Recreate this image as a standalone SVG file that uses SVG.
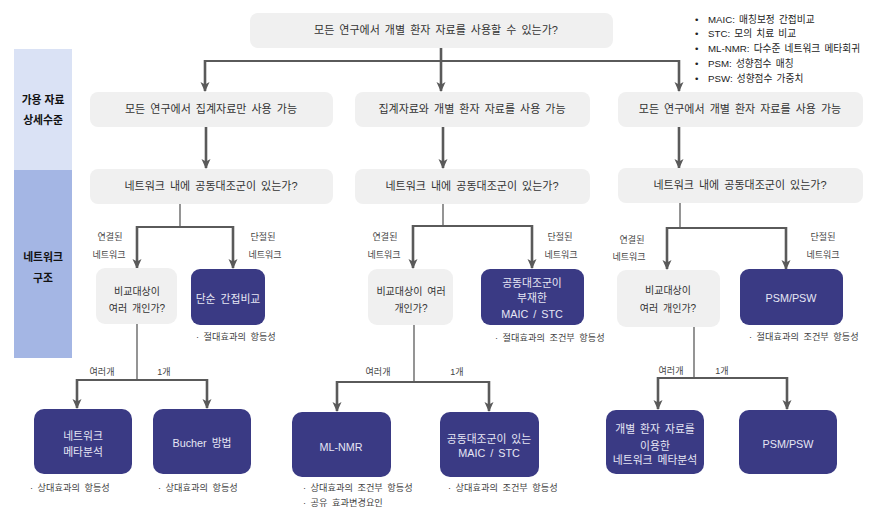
<svg xmlns="http://www.w3.org/2000/svg" width="877" height="517" viewBox="0 0 877 517">
<style>
text{font-family:"Liberation Sans","Noto Sans CJK KR",sans-serif;text-anchor:middle;}
.q{fill:#f0f0f0;}
.d{fill:#3a3a84;}
.t{font-size:11px;fill:#333;word-spacing:2px;}
.g{font-size:10px;fill:#333;word-spacing:2px;}
.w{font-size:10.8px;fill:#e6e6f4;word-spacing:2px;}
.l{font-size:9px;fill:#444;}
.a{font-size:9.2px;fill:#444;text-anchor:start;word-spacing:2px;}
.s{font-size:10.8px;font-weight:bold;fill:#111;}
.lg{font-size:9.7px;fill:#222;text-anchor:start;word-spacing:1.5px;}
.ar{fill:none;stroke:#5a5a5a;stroke-width:2.6;marker-end:url(#ah);}
.ln{fill:none;stroke:#5a5a5a;stroke-width:2.2;}
.st{fill:none;stroke:#7a7a7a;stroke-width:1.6;}
</style>
<defs>
<marker id="ah" markerUnits="userSpaceOnUse" markerWidth="10" markerHeight="10" viewBox="0 0 10 10" refX="9" refY="5" orient="auto">
<path d="M0,0.5 L10,5 L0,9.5 L2.5,5 z" fill="#5a5a5a"/>
</marker>
</defs>
<rect width="877" height="517" fill="#ffffff"/>

<g id="sidebar">
<rect x="14" y="49" width="58" height="121" fill="#dae2f5"/>
<rect x="14" y="170" width="58" height="188" fill="#a4b6e4"/>
<text class="s" x="43" y="104">가용 자료</text>
<text class="s" x="43" y="124">상세수준</text>
<text class="s" x="43" y="261">네트워크</text>
<text class="s" x="43" y="282">구조</text>
</g>

<g id="legend">
<text class="lg" x="695" y="22.5">•</text><text class="lg" x="708" y="22.5">MAIC: 매칭보정 간접비교</text>
<text class="lg" x="695" y="36.5">•</text><text class="lg" x="708" y="36.5">STC: 모의 치료 비교</text>
<text class="lg" x="695" y="51.5">•</text><text class="lg" x="708" y="51.5">ML-NMR: 다수준 네트워크 메타회귀</text>
<text class="lg" x="695" y="66.5">•</text><text class="lg" x="708" y="66.5">PSM: 성향점수 매칭</text>
<text class="lg" x="695" y="81.5">•</text><text class="lg" x="708" y="81.5">PSW: 성향점수 가중치</text>
</g>

<g id="connectors">
<path class="ln" d="M205,61 H679"/>
<path class="ar" d="M205,60 V91"/>
<path class="ar" d="M441,48 V91"/>
<path class="ar" d="M679,60 V91"/>
<path class="ar" d="M206,127 V168"/>
<path class="ar" d="M443,127 V168"/>
<path class="ar" d="M679,127 V168"/>

<path class="st" d="M180,204 V227"/>
<path class="ln" d="M137,227 H233"/>
<path class="ar" d="M137,226 V268"/>
<path class="ar" d="M233,226 V268"/>
<path class="st" d="M443,204 V226"/>
<path class="ln" d="M413,226 H532"/>
<path class="ar" d="M413,225 V268"/>
<path class="ar" d="M532,225 V268"/>
<path class="st" d="M680,203 V228"/>
<path class="ln" d="M667,228 H786"/>
<path class="ar" d="M667,227 V269"/>
<path class="ar" d="M786,227 V269"/>

<path class="st" d="M137,324 V380"/>
<path class="ln" d="M77,380 H207"/>
<path class="ar" d="M77,379 V408"/>
<path class="ar" d="M207,379 V408"/>
<path class="st" d="M414,325 V382"/>
<path class="ln" d="M337,382 H489"/>
<path class="ar" d="M337,381 V411"/>
<path class="ar" d="M489,381 V411"/>
<path class="st" d="M694,327 V378"/>
<path class="ln" d="M658,378 H787"/>
<path class="ar" d="M658,377 V409"/>
<path class="ar" d="M787,377 V409"/>
</g>

<g id="labels">
<text class="l" x="110" y="240">연결된</text><text class="l" x="109" y="258">네트워크</text>
<text class="l" x="263" y="240">단절된</text><text class="l" x="265" y="258">네트워크</text>
<text class="l" x="385" y="240">연결된</text><text class="l" x="384" y="258">네트워크</text>
<text class="l" x="560" y="240">단절된</text><text class="l" x="561" y="258">네트워크</text>
<text class="l" x="632" y="243">연결된</text><text class="l" x="629" y="260">네트워크</text>
<text class="l" x="823" y="240">단절된</text><text class="l" x="823" y="258">네트워크</text>
<text class="l" x="102" y="375">여러개</text><text class="l" x="164" y="375">1개</text>
<text class="l" x="378" y="375">여러개</text><text class="l" x="457" y="375">1개</text>
<text class="l" x="671" y="374">여러개</text><text class="l" x="722" y="374">1개</text>
</g>

<g id="n-top"><rect class="q" x="250" y="13" width="363" height="35" rx="8"/><text class="t" x="436" y="34">모든 연구에서 개별 환자 자료를 사용할 수 있는가?</text></g>

<g id="n-r2a"><rect class="q" x="90" y="92" width="243" height="35" rx="8"/><text class="t" x="211" y="113">모든 연구에서 집계자료만 사용 가능</text></g>
<g id="n-r2b"><rect class="q" x="355" y="92" width="235" height="35" rx="8"/><text class="t" x="472" y="113">집계자료와 개별 환자 자료를 사용 가능</text></g>
<g id="n-r2c"><rect class="q" x="618" y="92" width="245" height="35" rx="8"/><text class="t" x="740" y="113">모든 연구에서 개별 환자 자료를 사용 가능</text></g>

<g id="n-r3a"><rect class="q" x="90" y="169" width="243" height="35" rx="8"/><text class="t" x="211" y="190">네트워크 내에 공동대조군이 있는가?</text></g>
<g id="n-r3b"><rect class="q" x="355" y="169" width="235" height="35" rx="8"/><text class="t" x="472" y="190">네트워크 내에 공동대조군이 있는가?</text></g>
<g id="n-r3c"><rect class="q" x="618" y="168" width="245" height="35" rx="8"/><text class="t" x="740" y="189">네트워크 내에 공동대조군이 있는가?</text></g>

<g id="n-qa"><rect class="q" x="96" y="268" width="81" height="56" rx="9"/><text class="g" x="137" y="295">비교대상이</text><text class="g" x="137" y="312">여러 개인가?</text></g>
<g id="n-qb"><rect class="q" x="368" y="269" width="85" height="56" rx="9"/><text class="g" x="411" y="295">비교대상이 여러</text><text class="g" x="411" y="312">개인가?</text></g>
<g id="n-qc"><rect class="q" x="617" y="270" width="103" height="57" rx="9"/><text class="g" x="668" y="294">비교대상이</text><text class="g" x="668" y="312">여러 개인가?</text></g>

<g id="n-simple"><rect class="d" x="191" y="269" width="74" height="56" rx="9"/><text class="w" x="228" y="303">단순 간접비교</text></g>
<text class="a" x="196" y="340">· 절대효과의 항등성</text>
<g id="n-maic-no"><rect class="d" x="481" y="269" width="103" height="56" rx="9"/><text class="w" x="532" y="287">공동대조군이</text><text class="w" x="532" y="302">부재한</text><text class="w" x="532" y="318">MAIC / STC</text></g>
<text class="a" x="495" y="341">· 절대효과의 조건부 항등성</text>
<g id="n-psm1"><rect class="d" x="740" y="269" width="103" height="56" rx="9"/><text class="w" x="791" y="302">PSM/PSW</text></g>
<text class="a" x="749" y="340">· 절대효과의 조건부 항등성</text>

<g id="n-nma"><rect class="d" x="34" y="409" width="98" height="65" rx="10"/><text class="w" x="83" y="440">네트워크</text><text class="w" x="83" y="456">메타분석</text></g>
<text class="a" x="30" y="491">· 상대효과의 항등성</text>
<g id="n-bucher"><rect class="d" x="153" y="409" width="98" height="65" rx="10"/><text class="w" x="202" y="447">Bucher 방법</text></g>
<text class="a" x="158" y="491">· 상대효과의 항등성</text>
<g id="n-mlnmr"><rect class="d" x="292" y="412" width="99" height="65" rx="10"/><text class="w" x="341" y="451">ML-NMR</text></g>
<text class="a" x="303" y="491">· 상대효과의 조건부 항등성</text>
<text class="a" x="303" y="506">· 공유 효과변경요인</text>
<g id="n-maic-yes"><rect class="d" x="440" y="412" width="99" height="65" rx="10"/><text class="w" x="489" y="443">공동대조군이 있는</text><text class="w" x="489" y="457">MAIC / STC</text></g>
<text class="a" x="448" y="491">· 상대효과의 조건부 항등성</text>
<g id="n-ipdnma"><rect class="d" x="606" y="410" width="98" height="64" rx="10"/><text class="w" x="655" y="433">개별 환자 자료를</text><text class="w" x="655" y="450">이용한</text><text class="w" x="655" y="464">네트워크 메타분석</text></g>
<g id="n-psm2"><rect class="d" x="739" y="410" width="98" height="64" rx="10"/><text class="w" x="788" y="448">PSM/PSW</text></g>
</svg>
